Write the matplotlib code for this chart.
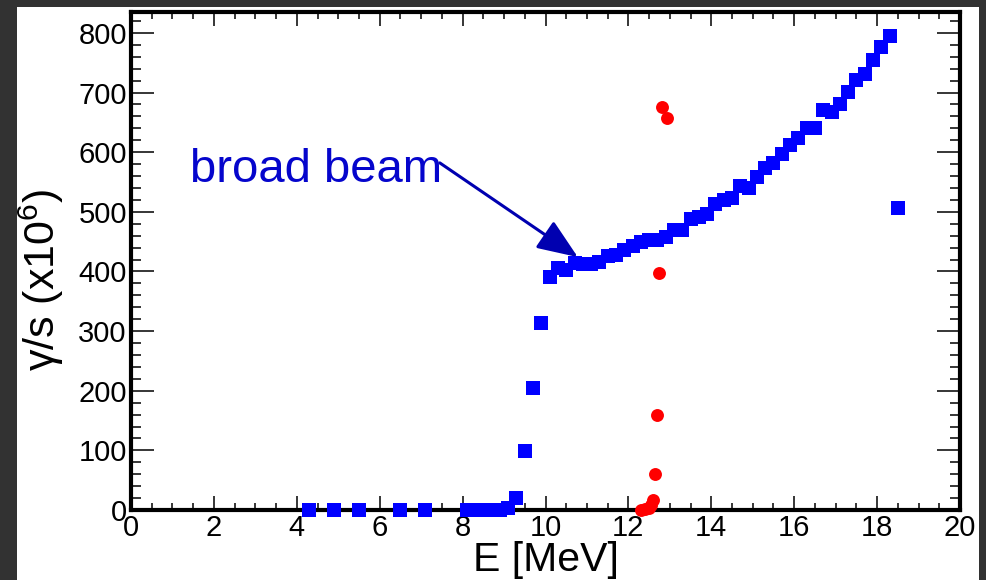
import matplotlib
matplotlib.use("Agg")
import matplotlib.pyplot as plt
from matplotlib.patches import Rectangle
from matplotlib.ticker import MultipleLocator

plt.rcParams['font.family'] = ['Liberation Sans', 'DejaVu Sans']
plt.rcParams['mathtext.fontset'] = 'custom'
plt.rcParams['mathtext.rm'] = 'Liberation Sans'

# Broad-beam gamma yield (blue squares)
broad_E = [4.3, 4.9, 5.5, 6.5, 7.1,
           8.1, 8.3, 8.5, 8.7, 8.9, 9.1, 9.3, 9.5, 9.7, 9.9,
           10.1, 10.3, 10.5, 10.7, 10.9, 11.1, 11.3, 11.5, 11.7, 11.9,
           12.1, 12.3, 12.5, 12.7, 12.9, 13.1, 13.3, 13.5, 13.7, 13.9,
           14.1, 14.3, 14.5, 14.7, 14.9, 15.1, 15.3, 15.5, 15.7, 15.9,
           16.1, 16.3, 16.5, 16.7, 16.9, 17.1, 17.3, 17.5, 17.7, 17.9,
           18.1, 18.3, 18.5]
broad_rate = [0, 0, 0, 0, 0,
              0, 0, 0, 0, 0, 3, 20, 99, 205, 314,
              391, 406, 403, 414, 412, 413, 415, 426, 428, 436,
              443, 450, 453, 453, 458, 470, 470, 488, 492, 496,
              513, 520, 523, 543, 540, 559, 574, 582, 597, 612,
              624, 641, 641, 671, 668, 681, 701, 721, 731, 755,
              777, 794, 507]

# Narrow-resonance points (red circles)
narrow_E = [12.3, 12.4, 12.5, 12.55, 12.6, 12.65, 12.7, 12.75, 12.8, 12.93]
narrow_rate = [0, 1, 3, 8, 17, 60, 159, 398, 676, 658]

x_ticks = [0, 2, 4, 6, 8, 10, 12, 14, 16, 18, 20]
y_ticks = [0, 100, 200, 300, 400, 500, 600, 700, 800]

W, H = 986, 580
fig = plt.figure(figsize=(W / 100, H / 100), dpi=100, facecolor='#323232')
fig.patches.append(Rectangle((17 / W, 0), (979 - 17) / W, (H - 7) / H,
                             transform=fig.transFigure, facecolor='white',
                             edgecolor='none', zorder=-10))

ax = fig.add_axes([131 / W, 1 - 510 / H, (960 - 131) / W, (510 - 12) / H])
ax.set_facecolor('white')
ax.set_xlim(0, 20)
ax.set_ylim(0, 835)

ax.plot(broad_E, broad_rate, 's', color='#0000ff', ms=9.8, mew=0,
        clip_on=False, zorder=3)
ax.plot(narrow_E, narrow_rate, 'o', color='#ff0000', ms=9.3, mew=0,
        clip_on=False, zorder=4)

ax.set_xticks(x_ticks)
ax.set_yticks(y_ticks)
ax.xaxis.set_minor_locator(MultipleLocator(0.5))
ax.yaxis.set_minor_locator(MultipleLocator(20))
ax.tick_params(axis='x', which='major', direction='in', length=10, width=1.1,
               top=True, bottom=True, labelsize=21, pad=3)
ax.tick_params(axis='x', which='minor', direction='in', length=5, width=1.1,
               top=True, bottom=True)
ax.tick_params(axis='y', which='major', direction='in', length=16.5, width=1.1,
               left=True, right=True, labelsize=21, pad=3)
ax.tick_params(axis='y', which='minor', direction='in', length=7.5, width=1.1,
               left=True, right=True)
for s in ax.spines.values():
    s.set_linewidth(3)

ax.set_xlabel('E [MeV]', fontsize=29.5, labelpad=-1)
fig.text(41 / W, 1 - 280 / H, 'γ/s (x10$^{6}$)', fontsize=31, rotation=90,
         ha='center', va='center')

ax.text(1.42, 550, 'broad beam', fontsize=34, color='#0505cc',
        ha='left', va='baseline')
ax.annotate('', xy=(10.78, 424), xytext=(7.45, 582),
            arrowprops=dict(arrowstyle='-|>,head_length=1.25,head_width=0.5',
                            mutation_scale=20, color='#0000b0', lw=2.2,
                            shrinkA=0, shrinkB=0))

fig.savefig('out.png', dpi=100, facecolor=fig.get_facecolor())
